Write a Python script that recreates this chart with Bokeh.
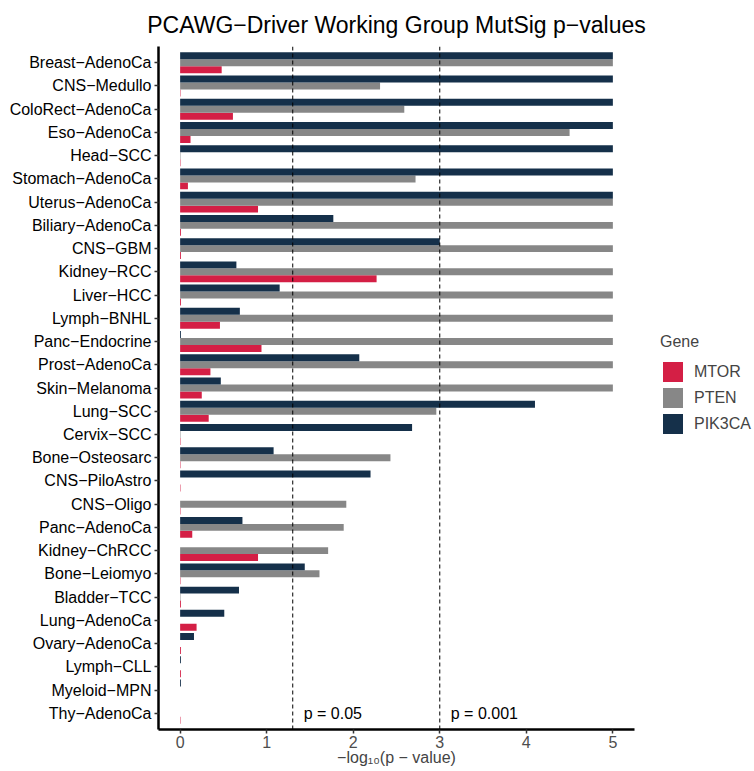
import math
from bokeh.plotting import figure
from bokeh.layouts import row
from bokeh.models import Range1d, FactorRange, Span, Legend, LegendItem, FixedTicker, ColumnDataSource
from bokeh.transform import dodge
from bokeh.core.properties import value
from bokeh.embed import file_html
from bokeh.resources import INLINE

NaN = float("nan")

cancers = ["Breast−AdenoCa", "CNS−Medullo", "ColoRect−AdenoCa", "Eso−AdenoCa", "Head−SCC",
           "Stomach−AdenoCa", "Uterus−AdenoCa", "Biliary−AdenoCa", "CNS−GBM", "Kidney−RCC",
           "Liver−HCC", "Lymph−BNHL", "Panc−Endocrine", "Prost−AdenoCa", "Skin−Melanoma",
           "Lung−SCC", "Cervix−SCC", "Bone−Osteosarc", "CNS−PiloAstro", "CNS−Oligo",
           "Panc−AdenoCa", "Kidney−ChRCC", "Bone−Leiomyo", "Bladder−TCC", "Lung−AdenoCa",
           "Ovary−AdenoCa", "Lymph−CLL", "Myeloid−MPN", "Thy−AdenoCa"]

pik3ca = [5, 5, 5, 5, 5, 5, 5, 1.77, 3.0, 0.65,
          1.15, 0.69, 0.01, 2.07, 0.47, 4.10, 2.68, 1.08, 2.20, NaN,
          0.72, NaN, 1.44, 0.68, 0.51, 0.16, 0.01, 0.01, NaN]
pten = [5, 2.31, 2.59, 4.50, 0.005, 2.72, 5, 5, 5, 5,
        5, 5, 5, 5, 5, 2.96, 0.005, 2.43, NaN, 1.92,
        1.89, 1.71, 1.61, 0.005, NaN, NaN, NaN, NaN, NaN]
mtor = [0.48, 0.005, 0.61, 0.12, 0.005, 0.09, 0.90, 0.01, 0.01, 2.27,
        0.01, 0.46, 0.94, 0.35, 0.25, 0.33, 0.005, 0.005, 0.005, 0.005,
        0.14, 0.90, 0.005, 0.01, 0.19, 0.01, 0.01, NaN, 0.005]

genes = ["MTOR", "PTEN", "PIK3CA"]
gene_colors = ["#D41F45", "#878787", "#15304A"]
gene_offsets = [-0.3, 0.0, 0.3]

thresholds = [0.05, 0.001]
threshold_labels = ["p = 0.05", "p = 0.001"]

x_ticks = [0, 1, 2, 3, 4, 5]

FONT = "Liberation Sans"

src = ColumnDataSource(dict(cancer=cancers, MTOR=mtor, PTEN=pten, PIK3CA=pik3ca))

p = figure(width=654, height=771, output_backend="svg", toolbar_location=None,
           y_range=FactorRange(factors=list(reversed(cancers)), range_padding=0.2,
                               range_padding_units="absolute"),
           x_range=Range1d(-0.25, 5.25),
           min_border_left=158, min_border_right=20, min_border_top=46, min_border_bottom=42,
           title="PCAWG−Driver Working Group MutSig p−values")

p.title.text_font = FONT
p.title.text_font_size = "23px"
p.title.text_font_style = "normal"
p.title.align = "center"
p.title.vertical_align = "top"
p.title.text_line_height = 1.0
p.title.text_color = "#000000"
p.title.standoff = 14

for g, c, off in zip(genes, gene_colors, gene_offsets):
    p.hbar(y=dodge("cancer", off, range=p.y_range), right=g, left=0, height=0.3,
           source=src, fill_color=c, line_color=None)

for t, lab in zip(thresholds, threshold_labels):
    xv = -math.log10(t)
    p.add_layout(Span(location=xv, dimension="height", line_color="black",
                      line_width=1, line_dash="4 3"))
    p.text(x=[xv], y=[cancers[-1]], text=[lab], x_offset=11, text_baseline="middle",
           text_align="left", text_font=value(FONT), text_font_size="16px", text_color="black")

p.xgrid.visible = False
p.ygrid.visible = False
p.outline_line_color = None

p.xaxis.ticker = FixedTicker(ticks=x_ticks)
p.xaxis.axis_label = "−log₁₀(p − value)"
p.xaxis.axis_label_text_font = FONT
p.xaxis.axis_label_text_font_size = "16px"
p.xaxis.axis_label_text_font_style = "normal"
p.xaxis.axis_label_standoff = -2
p.xaxis.major_label_text_color = "#4D4D4D"
p.xaxis.major_label_standoff = 2

for ax in (p.xaxis, p.yaxis):
    ax.axis_line_width = 2.5
    ax.axis_line_color = "black"
    ax.major_tick_line_color = "#333333"
    ax.major_tick_line_width = 1.5
    ax.major_tick_out = 4
    ax.major_tick_in = 0
    ax.minor_tick_line_color = None
    ax.major_label_text_font = FONT
    ax.major_label_text_font_size = "16px"

p.yaxis.major_label_text_color = "black"
p.yaxis.major_label_standoff = 3

# legend panel: a separate figure drawing the same bars outside its visible x range,
# so the legend can sit to the right of the main plot frame
lf = figure(width=100, height=771, output_backend="svg", toolbar_location=None,
            x_axis_location=None, y_axis_location=None,
            x_range=Range1d(-2, -1),
            y_range=FactorRange(factors=list(reversed(cancers))),
            min_border_left=0, min_border_right=0, min_border_top=0, min_border_bottom=0)
lf.xgrid.visible = False
lf.ygrid.visible = False
lf.outline_line_color = None

items = []
for g, c, off in zip(genes, gene_colors, gene_offsets):
    r = lf.hbar(y=dodge("cancer", off, range=lf.y_range), right=g, left=0, height=0.3,
                source=src, fill_color=c, line_color=None)
    items.append(LegendItem(label=g, renderers=[r]))

legend = Legend(items=items, location=(6, 293), title="Gene", orientation="vertical")
legend.title_text_font = FONT
legend.title_text_font_size = "16px"
legend.title_text_font_style = "normal"
legend.title_standoff = 8
legend.label_text_font = FONT
legend.label_text_font_size = "16px"
legend.glyph_width = 25
legend.glyph_height = 25
legend.label_height = 25
legend.spacing = 1
legend.label_standoff = 9
legend.padding = 0
legend.margin = 0
legend.border_line_alpha = 0
legend.background_fill_alpha = 0
lf.add_layout(legend, "center")

layout = row(p, lf, spacing=0)

open("out.html", "w").write(file_html(layout, INLINE))
